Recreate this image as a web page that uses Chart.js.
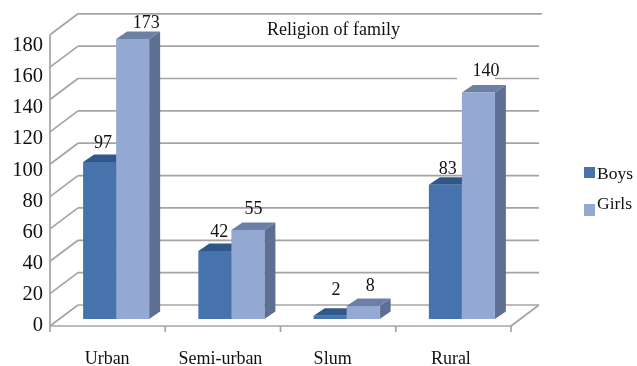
<!DOCTYPE html>
<html>
<head>
<meta charset="utf-8">
<title>Religion of family</title>
<script src="https://cdn.jsdelivr.net/npm/chart.js@4"></script>
<style>
  html, body { margin: 0; padding: 0; background: #fff; }
  canvas { display: block; }
</style>
</head>
<body>
<canvas id="religionChart" width="637" height="366"></canvas>
<script>
const categories = ['Urban', 'Semi-urban', 'Slum', 'Rural'];
const boys = [97, 42, 2, 83];
const girls = [173, 55, 8, 140];
const yTickValues = [0, 20, 40, 60, 80, 100, 120, 140, 160, 180];
const chartTitle = 'Religion of family';
const seriesNames = ['Boys', 'Girls'];

const serif = '"Liberation Serif", "Times New Roman", serif';
const gridColor = '#a4a4a4';
const colors = {
  boys: { front: '#4673ab', top: '#2f5889', side: '#2f5889' },
  girls: { front: '#93a9d2', top: '#6c80a6', side: '#5d6f92' }
};

// depth of the box around the bars, measured from the plane the bars stand on
const wallFront = { x: -8.5, y: 7 };
const wallBack = { x: 19.5, y: -14 };
const barDepth = { x: 11, y: -7.5 };

// hand placement of the value labels, [dx, dy] from the bar's top centre
const boysLabelShift = [[3.5, -19], [4.5, -19], [6, -25], [2.5, -15.5]];
const girlsLabelShift = [[13.5, -16.2], [5.5, -21], [7, -20], [7.5, -21]];
const xLabelNudge = [-9, -11, -14, -11];

function poly(ctx, pts, fill) {
  ctx.beginPath();
  pts.forEach((p, i) => i ? ctx.lineTo(p[0], p[1]) : ctx.moveTo(p[0], p[1]));
  ctx.closePath();
  ctx.fillStyle = fill;
  ctx.fill();
}

function line(ctx, x1, y1, x2, y2) {
  ctx.beginPath();
  ctx.moveTo(x1, y1);
  ctx.lineTo(x2, y2);
  ctx.stroke();
}

const box3d = {
  id: 'box3d',
  afterLayout(chart) {
    chart.scales.x.getLabelItems().forEach((item, i) => {
      item.options.translation[0] += xLabelNudge[i];
    });
  },
  beforeDatasetsDraw(chart) {
    const ctx = chart.ctx;
    const { x: xs, y: ys } = chart.scales;
    const left = xs.left, right = xs.right;

    ctx.save();
    ctx.strokeStyle = gridColor;
    ctx.lineWidth = 1.7;

    // back wall lines and the diagonals running to the front edge
    yTickValues.forEach(v => {
      const y = ys.getPixelForValue(v);
      const topLine = v === yTickValues[yTickValues.length - 1];
      line(ctx, left + wallFront.x, y + wallFront.y, left + wallBack.x, y + wallBack.y);
      line(ctx, left + wallBack.x, y + wallBack.y, right + wallBack.x + (topLine ? 3 : 0), y + wallBack.y);
    });

    const y0 = ys.getPixelForValue(0);
    const yTop = ys.getPixelForValue(180);
    line(ctx, left + wallFront.x, yTop + wallFront.y, left + wallFront.x, y0 + wallFront.y + 6);
    line(ctx, left + wallFront.x, y0 + wallFront.y, right + wallFront.x, y0 + wallFront.y);
    line(ctx, right + wallFront.x, y0 + wallFront.y, right + wallBack.x, y0 + wallBack.y);

    const band = (right - left) / categories.length;
    for (let i = 1; i <= categories.length; i++) {
      const x = left + band * i + wallFront.x;
      line(ctx, x, y0 + wallFront.y, x, y0 + wallFront.y + 6);
    }

    // gap in the line under the 140 label
    ctx.fillStyle = '#fff';
    ctx.fillRect(457, 70, 38, 10);

    // sides and tops; the fronts are drawn over these by the library
    chart.data.datasets.forEach((ds, d) => {
      const c = d === 0 ? colors.boys : colors.girls;
      chart.getDatasetMeta(d).data.forEach(bar => {
        const l = bar.x - bar.width / 2, r = bar.x + bar.width / 2;
        const t = bar.y, b = bar.base;
        const dx = barDepth.x, dy = barDepth.y;
        poly(ctx, [[r, t], [r + dx, t + dy], [r + dx, b + dy], [r, b]], c.side);
        poly(ctx, [[l, t], [l + dx, t + dy], [r + dx, t + dy], [r, t]], c.top);
      });
    });
    ctx.restore();
  },
  afterDatasetsDraw(chart) {
    const ctx = chart.ctx;
    ctx.save();
    ctx.fillStyle = '#111';
    ctx.textBaseline = 'middle';
    ctx.textAlign = 'center';
    ctx.font = '18px ' + serif;

    const shifts = [boysLabelShift, girlsLabelShift];
    chart.data.datasets.forEach((ds, d) => {
      chart.getDatasetMeta(d).data.forEach((bar, i) => {
        const s = shifts[d][i];
        ctx.fillText(String(ds.data[i]), bar.x + s[0], bar.y + s[1]);
      });
    });

    ctx.fillText(chartTitle, 333.5, 30);

    // legend
    ctx.textAlign = 'left';
    ctx.font = '17.5px ' + serif;
    ctx.fillStyle = colors.boys.front;
    ctx.fillRect(584, 167, 11, 11);
    ctx.fillStyle = colors.girls.front;
    ctx.fillRect(584, 204, 11, 12);
    ctx.fillStyle = '#111';
    ctx.fillText(seriesNames[0], 597, 174);
    ctx.fillText(seriesNames[1], 597, 204);
    ctx.restore();
  }
};

new Chart(document.getElementById('religionChart'), {
  type: 'bar',
  data: {
    labels: categories,
    datasets: [
      { label: seriesNames[0], data: boys, backgroundColor: colors.boys.front, yAxisID: 'y' },
      { label: seriesNames[1], data: girls, backgroundColor: colors.girls.front, yAxisID: 'y' }
    ]
  },
  options: {
    responsive: false,
    animation: false,
    layout: { padding: { top: 27.4, right: 117.5, bottom: 0, left: 0 } },
    datasets: { bar: { categoryPercentage: 0.573, barPercentage: 1, borderWidth: 0 } },
    plugins: { legend: { display: false }, title: { display: false }, tooltip: { enabled: false } },
    scales: {
      x: {
        grid: { display: false, drawTicks: false },
        border: { display: false },
        ticks: { color: '#111', font: { family: serif, size: 18 }, padding: 29.5, maxRotation: 0, autoSkip: false },
        afterFit(scale) { scale.height = 47; }
      },
      y: { display: false, min: 0, max: 180 },
      // the printed numbers run on a slightly tighter spacing than the bars' own axis
      yTicks: {
        position: 'left',
        min: 4.5,
        max: 191.3,
        grid: { display: false, drawTicks: false },
        border: { display: false },
        ticks: { color: '#111', font: { family: serif, size: 20.5 }, padding: 15.5, autoSkip: false },
        afterBuildTicks(scale) { scale.ticks = yTickValues.map(value => ({ value })); },
        afterFit(scale) { scale.width = 58.5; }
      }
    }
  },
  plugins: [box3d]
});
</script>
</body>
</html>
